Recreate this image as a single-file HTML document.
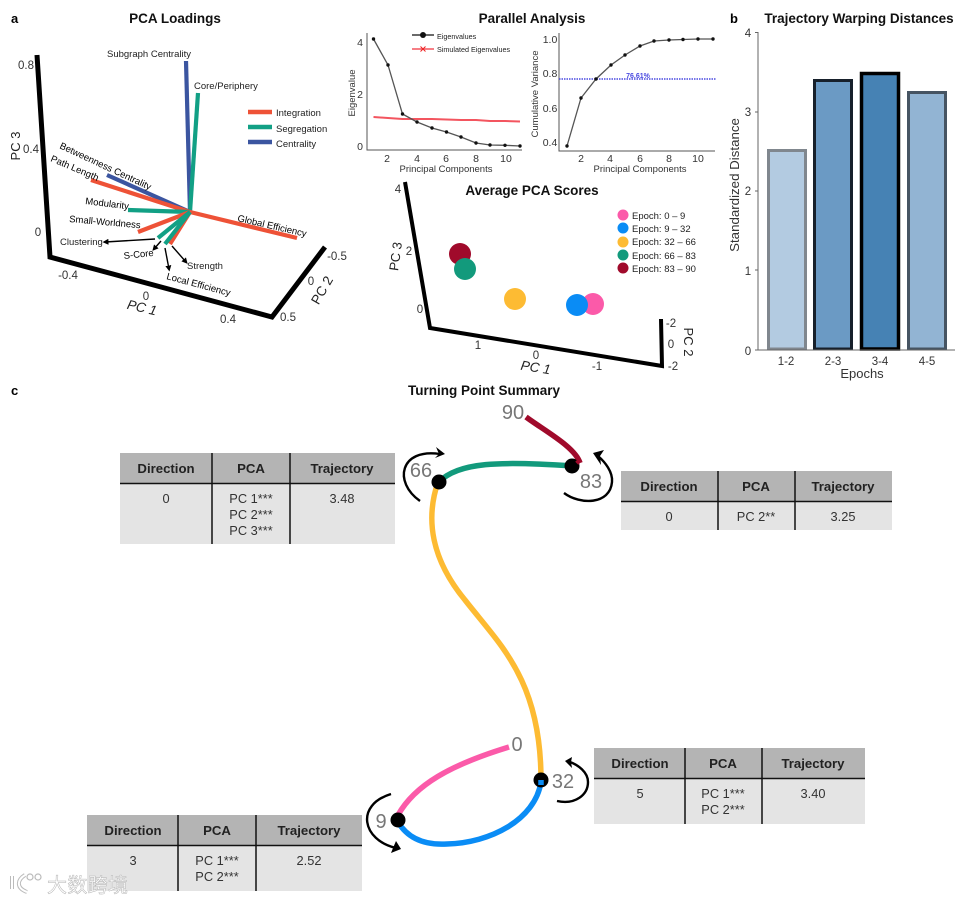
<!DOCTYPE html>
<html><head><meta charset="utf-8"><style>
html,body{margin:0;padding:0;background:#fff;width:969px;height:903px;overflow:hidden}
svg{display:block}
text{font-family:"Liberation Sans","Noto Sans CJK SC",sans-serif;fill:#222}
.t{font-size:13.5px;font-weight:bold;fill:#111;text-anchor:middle}
.p{font-size:13px;font-weight:bold;fill:#000}
.s{font-size:9.5px;fill:#222}
.r{font-size:9.5px;fill:#000}
.a{font-size:11.5px;fill:#333;text-anchor:middle}
.k{font-size:10.5px;fill:#333;text-anchor:middle}
.m{font-size:9.5px;fill:#333;text-anchor:middle}
.h{font-size:13.2px;font-weight:bold;fill:#222;text-anchor:middle}
.c{font-size:12.8px;fill:#333;text-anchor:middle}
.n{font-size:20px;fill:#777;text-anchor:middle}
.ax{font-size:13.5px;font-style:italic;fill:#222;text-anchor:middle}
</style></head><body>
<svg width="969" height="903" viewBox="0 0 969 903" xmlns="http://www.w3.org/2000/svg">
<defs>
<marker id="ah" markerWidth="6" markerHeight="6" refX="3.5" refY="3" orient="auto" markerUnits="userSpaceOnUse"><path d="M0 0L6 3L0 6Z" fill="#000"/></marker>
</defs>
<rect width="969" height="903" fill="#fff"/>

<!-- panel labels -->
<text class="p" x="11" y="23">a</text>
<text class="p" x="730" y="23">b</text>
<text class="p" x="11" y="395">c</text>
<text class="t" x="175" y="23">PCA Loadings</text>
<text class="t" x="532" y="23">Parallel Analysis</text>
<text class="t" x="532" y="195">Average PCA Scores</text>
<text class="t" x="859" y="23">Trajectory Warping Distances</text>
<text class="t" x="484" y="395">Turning Point Summary</text>

<!-- PCA loadings -->
<path d="M37 55L50 257L272 317L325 247" fill="none" stroke="#000" stroke-width="5"/>
<g stroke-width="4.2" fill="none">
<path d="M190 212L186 61" stroke="#3b55a0"/>
<path d="M190 212L198 93" stroke="#12a085"/>
<path d="M190 212L107 175" stroke="#3b55a0"/>
<path d="M190 212L91 180" stroke="#ee5237"/>
<path d="M190 212L128 210" stroke="#12a085"/>
<path d="M190 212L138 232" stroke="#ee5237"/>
<path d="M190 212L297 238" stroke="#ee5237"/>
<path d="M190 212L170 244" stroke="#ee5237"/>
<path d="M190 212L165 244" stroke="#12a085"/>
<path d="M190 212L158 238" stroke="#12a085"/>
</g>
<g stroke="#000" stroke-width="1.4" fill="none" marker-end="url(#ah)">
<path d="M155 239L105 242"/><path d="M161 241L154 249"/><path d="M165 248L169 269"/><path d="M172 246L186 262"/>
</g>
<text class="s" x="107" y="57">Subgraph Centrality</text>
<text class="s" x="194" y="89">Core/Periphery</text>
<text class="r" transform="translate(59,148) rotate(25)">Betweenness Centrality</text>
<text class="r" transform="translate(50,161) rotate(23)">Path Length</text>
<text class="r" transform="translate(85,204) rotate(7)">Modularity</text>
<text class="r" transform="translate(69,222) rotate(5)">Small-Worldness</text>
<text class="r" transform="translate(237,221) rotate(13)">Global Efficiency</text>
<text class="r" transform="translate(166,279) rotate(15)">Local Efficiency</text>
<text class="r" transform="translate(124,259) rotate(-6)">S-Core</text>
<text class="s" x="60" y="245">Clustering</text>
<text class="s" x="187" y="269">Strength</text>
<g stroke-width="4.500"><path d="M248 112H272" stroke="#ee5237"/><path d="M248 127H272" stroke="#12a085"/><path d="M248 142H272" stroke="#3b55a0"/></g>
<text class="s" x="276" y="116">Integration</text>
<text class="s" x="276" y="132">Segregation</text>
<text class="s" x="276" y="147">Centrality</text>
<text class="a" x="26" y="69">0.8</text>
<text class="a" x="31" y="153">0.4</text>
<text class="a" x="38" y="236">0</text>
<text class="a" x="68" y="279">-0.4</text>
<text class="a" x="146" y="300">0</text>
<text class="a" x="228" y="323">0.4</text>
<text class="a" x="288" y="321">0.5</text>
<text class="a" x="311" y="285">0</text>
<text class="a" x="337" y="260">-0.5</text>
<text class="ax" transform="translate(141,312) rotate(13)">PC 1</text>
<text transform="translate(20,146) rotate(-90)" style="font-size:13px;text-anchor:middle">PC 3</text>
<text class="ax" style="font-style:normal" transform="translate(326,292.500) rotate(-60)">PC 2</text>

<!-- Eigenvalue plot -->
<path d="M367 33V150H522" fill="none" stroke="#555" stroke-width="1"/>
<polyline points="373.5,117 388,118 402.5,119 417,119 432,119 446.500,119.500 461,120 476,120 490,121 505,121 520,121.500" fill="none" stroke="#f3555f" stroke-width="2"/>
<polyline points="373.500,39 388,65 402.500,114 417,122 432,128 446.500,132 461,137 476,143 490,145 505,145.300 520,146" fill="none" stroke="#555" stroke-width="1.300"/>
<g fill="#111"><circle cx="373.500" cy="39" r="1.700"/><circle cx="388" cy="65" r="1.700"/><circle cx="402.500" cy="114" r="1.700"/><circle cx="417" cy="122" r="1.700"/><circle cx="432" cy="128" r="1.700"/><circle cx="446.500" cy="132" r="1.700"/><circle cx="461" cy="137" r="1.700"/><circle cx="476" cy="143" r="1.700"/><circle cx="490" cy="145" r="1.700"/><circle cx="505" cy="145.300" r="1.700"/><circle cx="520" cy="146" r="1.700"/></g>
<path d="M412 35H434" stroke="#111" stroke-width="1.300"/><circle cx="423" cy="35" r="3" fill="#111"/>
<path d="M412 49H434" stroke="#f3555f" stroke-width="1.500"/><path d="M420.500 46.500l5 5m0-5l-5 5" stroke="#e22" stroke-width="1"/>
<text x="437" y="39" style="font-size:7.200px">Eigenvalues</text>
<text x="437" y="52" style="font-size:7.200px">Simulated Eigenvalues</text>
<text x="360" y="46" class="k">4</text><text x="360" y="98" class="k">2</text><text x="360" y="150" class="k">0</text>
<text x="387" y="162" class="k">2</text><text x="417" y="162" class="k">4</text><text x="446" y="162" class="k">6</text><text x="476" y="162" class="k">8</text><text x="506" y="162" class="k">10</text>
<text class="m" x="446" y="172">Principal Components</text>
<text class="m" transform="translate(355,93) rotate(-90)">Eigenvalue</text>

<!-- Cumulative -->
<path d="M559 33V151H715" fill="none" stroke="#555" stroke-width="1"/>
<path d="M559 79H716" stroke="#4a4ae0" stroke-width="1.500" stroke-dasharray="1.500 1"/>
<polyline points="567,146 581,98 596,79 611,65 625,55 640,46 654,41 669,40 683,39.500 698,39 713,39" fill="none" stroke="#555" stroke-width="1.300"/>
<g fill="#111"><circle cx="567" cy="146" r="1.700"/><circle cx="581" cy="98" r="1.700"/><circle cx="596" cy="79" r="1.700"/><circle cx="611" cy="65" r="1.700"/><circle cx="625" cy="55" r="1.700"/><circle cx="640" cy="46" r="1.700"/><circle cx="654" cy="41" r="1.700"/><circle cx="669" cy="40" r="1.700"/><circle cx="683" cy="39.500" r="1.700"/><circle cx="698" cy="39" r="1.700"/><circle cx="713" cy="39" r="1.700"/></g>
<text x="638" y="78" style="font-size:7px;font-weight:bold;fill:#4a4ae0;text-anchor:middle">76.61%</text>
<text class="k" x="550" y="43">1.0</text><text class="k" x="550" y="77">0.8</text><text class="k" x="550" y="112">0.6</text><text class="k" x="550" y="146">0.4</text>
<text class="k" x="581" y="162">2</text><text class="k" x="610" y="162">4</text><text class="k" x="640" y="162">6</text><text class="k" x="669" y="162">8</text><text class="k" x="698" y="162">10</text>
<text class="m" x="640" y="172">Principal Components</text>
<text class="m" transform="translate(538,94) rotate(-90)">Cumulative Variance</text>

<!-- Average PCA scores -->
<path d="M405 182L430 328L662 366L661 319" fill="none" stroke="#000" stroke-width="4"/>
<circle cx="460" cy="254" r="11" fill="#a00a2b"/>
<circle cx="465" cy="269" r="11" fill="#129a7c"/>
<circle cx="515" cy="299" r="11" fill="#fdbb33"/>
<circle cx="593" cy="304" r="11" fill="#fb5aa9"/>
<circle cx="577" cy="305" r="11" fill="#0a8cf5"/>
<circle cx="623" cy="215" r="5.500" fill="#fb5aa9"/><circle cx="623" cy="228" r="5.500" fill="#0a8cf5"/><circle cx="623" cy="242" r="5.500" fill="#fdbb33"/><circle cx="623" cy="255" r="5.500" fill="#129a7c"/><circle cx="623" cy="268" r="5.500" fill="#a00a2b"/>
<text class="s" x="632" y="219">Epoch: 0 – 9</text><text class="s" x="632" y="232">Epoch: 9 – 32</text><text class="s" x="632" y="245">Epoch: 32 – 66</text><text class="s" x="632" y="259">Epoch: 66 – 83</text><text class="s" x="632" y="272">Epoch: 83 – 90</text>
<text class="a" x="398" y="193">4</text><text class="a" x="409" y="255">2</text><text class="a" x="420" y="313">0</text>
<text class="a" x="478" y="349">1</text><text class="a" x="536" y="359">0</text><text class="a" x="597" y="370">-1</text>
<text class="a" x="671" y="327">-2</text><text class="a" x="671" y="348">0</text><text class="a" x="673" y="370">-2</text>
<text class="ax" transform="translate(535,372) rotate(9)">PC 1</text>
<text transform="translate(400,257) rotate(-82)" style="font-size:13px;text-anchor:middle">PC 3</text>
<text transform="translate(684,342) rotate(90)" style="font-size:13px;text-anchor:middle">PC 2</text>

<!-- Bars -->
<rect x="768.500" y="150.500" width="37" height="198.500" fill="#b3cbe1" stroke="#80878e" stroke-width="3"/>
<rect x="814.500" y="80.500" width="37" height="268.500" fill="#6b9ac4" stroke="#17202b" stroke-width="3"/>
<rect x="861.500" y="73.500" width="37" height="275.500" fill="#4682b4" stroke="#000" stroke-width="3.500"/>
<rect x="908.500" y="92.500" width="37" height="256.500" fill="#92b4d3" stroke="#465462" stroke-width="3"/>
<path d="M758 32V350H955M755 32.500H758M755 112H758M755 191H758M755 270H758M755 350H758" fill="none" stroke="#666" stroke-width="1"/>
<text class="a" x="748" y="37">4</text><text class="a" x="748" y="116">3</text><text class="a" x="748" y="195">2</text><text class="a" x="748" y="275">1</text><text class="a" x="748" y="355">0</text>
<text class="a" x="786" y="365">1-2</text><text class="a" x="833" y="365">2-3</text><text class="a" x="880" y="365">3-4</text><text class="a" x="927" y="365">4-5</text>
<text class="a" style="font-size:13px" x="862" y="378">Epochs</text>
<text class="a" style="font-size:13.300px" transform="translate(739,185) rotate(-90)">Standardized Distance</text>

<!-- Trajectory -->
<g fill="none" stroke-width="5.500">
<path d="M398 815C415 785 450 765 509 747" stroke="#fb5aa9"/>
<path d="M398 822C410 842 430 845 447 844C490 843 535 820 541 782" stroke="#0a8cf5"/>
<path d="M438 482C425 520 432 560 465 600C500 645 541 680 541 780" stroke="#fdbb33"/>
<path d="M439 482C458 462 500 461 572 466" stroke="#129a7c"/>
<path d="M526 417C545 431 575 447 580 463" stroke="#a00a2b"/>
</g>
<circle cx="439" cy="482" r="7.500" fill="#000"/>
<circle cx="572" cy="466" r="7.500" fill="#000"/>
<circle cx="541" cy="780" r="7.500" fill="#000"/>
<circle cx="398" cy="820" r="7.500" fill="#000"/>
<path d="M541 780v5" stroke="#0a8cf5" stroke-width="5.500"/>
<path d="M577 460l3 3" stroke="#a00a2b" stroke-width="5"/>
<g fill="none" stroke="#000" stroke-width="2.400">
<path d="M420 501C393 482 400 448 440 454"/>
<path d="M564 493C580 505 610 505 612 482C613 472 605 462 598 456"/>
<path d="M557 801C575 805 588 795 588 782C588 772 578 765 570 762"/>
<path d="M391 794C355 805 362 840 396 848"/>
</g>
<g fill="#000">
<polygon points="445,454 436,447 439,454 435,458"/>
<polygon points="593,453 604,450 600,456 601,465"/>
<polygon points="565,761 572,757 571,762 572,768"/>
<polygon points="401,849 391,853 393,848 396,841"/>
</g>
<text class="n" x="513" y="419">90</text>
<text class="n" x="421" y="477">66</text>
<text class="n" x="591" y="488">83</text>
<text class="n" x="517" y="751">0</text>
<text class="n" x="563" y="788">32</text>
<text class="n" x="381" y="828">9</text>

<!-- Tables -->
<g>
<rect x="120" y="453" width="275" height="91" fill="#e4e4e4"/><rect x="120" y="453" width="275" height="30" fill="#b4b4b4"/>
<path d="M120 483.500H395M212 453V544M290 453V544" stroke="#111" stroke-width="1.500"/>
<text class="h" x="166" y="473">Direction</text><text class="h" x="251" y="473">PCA</text><text class="h" x="342" y="473">Trajectory</text>
<text class="c" x="166" y="503">0</text><text class="c" x="251" y="503">PC 1***</text><text class="c" x="251" y="519">PC 2***</text><text class="c" x="251" y="535">PC 3***</text><text class="c" x="342" y="503">3.48</text>
</g>
<g>
<rect x="621" y="471" width="271" height="59" fill="#e4e4e4"/><rect x="621" y="471" width="271" height="30" fill="#b4b4b4"/>
<path d="M621 501.500H892M718 471V530M795 471V530" stroke="#111" stroke-width="1.500"/>
<text class="h" x="669" y="491">Direction</text><text class="h" x="756" y="491">PCA</text><text class="h" x="843" y="491">Trajectory</text>
<text class="c" x="669" y="521">0</text><text class="c" x="756" y="521">PC 2**</text><text class="c" x="843" y="521">3.25</text>
</g>
<g>
<rect x="594" y="748" width="271" height="76" fill="#e4e4e4"/><rect x="594" y="748" width="271" height="30" fill="#b4b4b4"/>
<path d="M594 778.500H865M685 748V824M762 748V824" stroke="#111" stroke-width="1.500"/>
<text class="h" x="640" y="768">Direction</text><text class="h" x="723" y="768">PCA</text><text class="h" x="813" y="768">Trajectory</text>
<text class="c" x="640" y="798">5</text><text class="c" x="723" y="798">PC 1***</text><text class="c" x="723" y="814">PC 2***</text><text class="c" x="813" y="798">3.40</text>
</g>
<g>
<rect x="87" y="815" width="275" height="76" fill="#e4e4e4"/><rect x="87" y="815" width="275" height="30" fill="#b4b4b4"/>
<path d="M87 845.500H362M178 815V891M256 815V891" stroke="#111" stroke-width="1.500"/>
<text class="h" x="133" y="835">Direction</text><text class="h" x="217" y="835">PCA</text><text class="h" x="309" y="835">Trajectory</text>
<text class="c" x="133" y="865">3</text><text class="c" x="217" y="865">PC 1***</text><text class="c" x="217" y="881">PC 2***</text><text class="c" x="309" y="865">2.52</text>
</g>

<!-- Watermark -->
<g fill="none" stroke="#bbb" stroke-width="4"><path d="M12 876V889M25 875C17 880 16 888 27 892"/></g>
<g fill="none" stroke="#fff" stroke-width="2"><path d="M12 876V889M25 875C17 880 16 888 27 892"/></g>
<circle cx="30" cy="877" r="3" fill="#fff" stroke="#bbb" stroke-width="1.200"/><circle cx="38" cy="877" r="3" fill="#fff" stroke="#bbb" stroke-width="1.200"/>
<text x="47" y="892" style="font-size:20px;fill:#fff;stroke:#b5b5b5;stroke-width:.5px;font-family:'Noto Sans CJK SC','Liberation Sans',sans-serif" textLength="81">大数跨境</text>
</svg>
</body></html>
